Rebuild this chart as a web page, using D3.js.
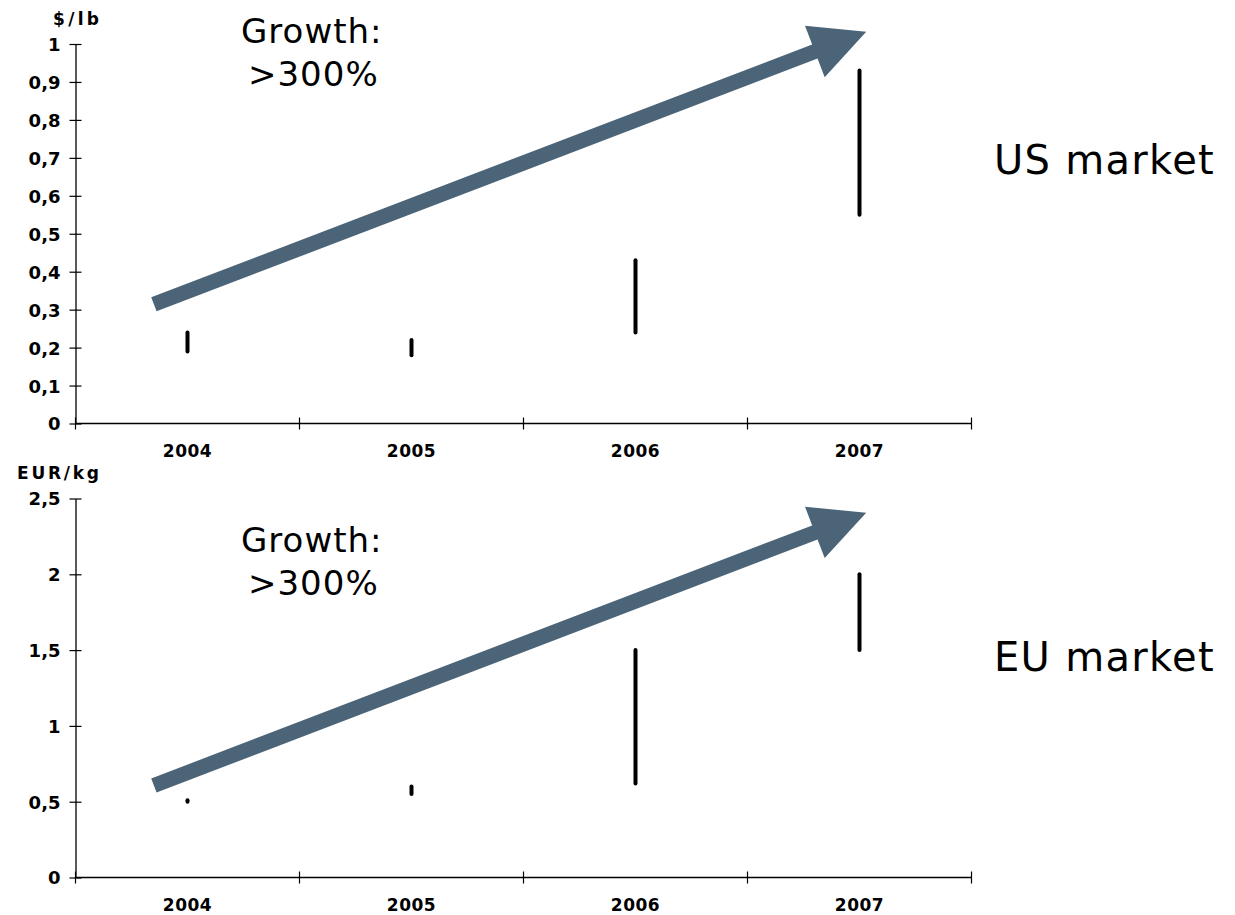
<!DOCTYPE html>
<html>
<head>
<meta charset="utf-8">
<script src="https://cdn.jsdelivr.net/npm/d3@7"></script>
<style>
  html, body { margin: 0; padding: 0; background: #ffffff; }
  svg { display: block; }
</style>
</head>
<body>
<script>
// ---------- data ----------
const years = ["2004", "2005", "2006", "2007"];
const usLow  = [0.19, 0.18, 0.24, 0.55];
const usHigh = [0.24, 0.22, 0.43, 0.93];
const euLow  = [0.50, 0.55, 0.62, 1.50];
const euHigh = [0.51, 0.60, 1.50, 2.00];
const usTicks = [0, 0.1, 0.2, 0.3, 0.4, 0.5, 0.6, 0.7, 0.8, 0.9, 1];
const euTicks = [0, 0.5, 1, 1.5, 2, 2.5];
const usUnit = "$/lb";
const euUnit = "EUR/kg";
const usLabel = "US market";
const euLabel = "EU market";
const growthLines = ["Growth:", ">300%"];
// arrow annotation endpoints in data units: [year position, value]
const usArrow = [[2003.85, 0.314], [2007.03, 1.032]];
const euArrow = [[2003.85, 0.607], [2007.03, 2.406]];

const W = 1235, H = 915;
const svg = d3.select("body").append("svg").attr("width", W).attr("height", H);
const FONT = "'DejaVu Sans', Verdana, sans-serif";
const fmt = d => String(d).replace(".", ",");

function panel(cfg) {
  const x = d3.scaleBand().domain(years).range([75.5, 971.5]).padding(0);
  const xYear = d3.scaleLinear().domain([2004, 2005]).range([x("2004") + x.bandwidth() / 2, x("2005") + x.bandwidth() / 2]);
  const y = d3.scaleLinear().domain([0, cfg.max]).range([cfg.y0, cfg.y1]);
  const g = svg.append("g");

  // y axis
  const ya = g.append("g").attr("transform", `translate(${x.range()[0]},0)`)
    .call(d3.axisLeft(y).tickValues(cfg.ticks).tickFormat(fmt).tickSizeInner(6).tickSizeOuter(0).tickPadding(9));
  ya.select(".domain").attr("stroke", "#000").attr("stroke-width", 1.3);
  ya.selectAll(".tick line").attr("x1", 6).attr("stroke", "#000").attr("stroke-width", 1.2);
  ya.selectAll(".tick text").attr("font-family", FONT).attr("font-weight", "bold")
    .attr("font-size", 18).attr("fill", "#000").attr("dy", "0.36em");

  // x axis
  const base = y(0);
  g.append("line").attr("x1", x.range()[0]).attr("x2", x.range()[1])
    .attr("y1", base).attr("y2", base).attr("stroke", "#000").attr("stroke-width", 1.3);
  const bounds = years.map(d => x(d)).concat([x.range()[1]]);
  g.selectAll(".xt").data(bounds).enter().append("line")
    .attr("x1", d => d).attr("x2", d => d)
    .attr("y1", base - 6).attr("y2", base + 6)
    .attr("stroke", "#000").attr("stroke-width", 1.2);
  g.selectAll(".xl").data(years).enter().append("text")
    .attr("x", d => x(d) + x.bandwidth() / 2).attr("y", base + 33)
    .attr("text-anchor", "middle").attr("font-family", FONT).attr("font-weight", "bold")
    .attr("font-size", 17).attr("letter-spacing", 0.5).text(d => d);

  // unit label
  g.append("text").attr("x", cfg.unitX).attr("y", cfg.unitY)
    .attr("font-family", FONT).attr("font-weight", "bold").attr("font-size", 17)
    .attr("textLength", cfg.unitW).attr("lengthAdjust", "spacing").text(cfg.unit);

  // range bars
  g.selectAll(".bar").data(years).enter().append("line")
    .attr("x1", d => x(d) + x.bandwidth() / 2).attr("x2", d => x(d) + x.bandwidth() / 2)
    .attr("y1", (d, i) => y(cfg.low[i])).attr("y2", (d, i) => y(cfg.high[i]))
    .attr("stroke", "#000").attr("stroke-width", 4).attr("stroke-linecap", "round");

  // arrow
  const [a, b] = cfg.arrow;
  const p0 = [xYear(a[0]), y(a[1])], p1 = [xYear(b[0]), y(b[1])];
  const dx = p1[0] - p0[0], dy = p1[1] - p0[1], L = Math.hypot(dx, dy);
  const u = [dx / L, dy / L], n = [-u[1], u[0]];
  const sw = 7.5, hl = 55, hw = 27.5;
  const hb = [p1[0] - u[0] * hl, p1[1] - u[1] * hl];
  const pt = (c, s) => [c[0] + n[0] * s, c[1] + n[1] * s];
  const poly = [pt(p0, sw), pt(hb, sw), pt(hb, hw), p1, pt(hb, -hw), pt(hb, -sw), pt(p0, -sw)];
  g.append("path").attr("d", "M" + poly.map(p => p.join(",")).join("L") + "Z").attr("fill", "#4c6477");

  // growth text
  g.append("text").attr("x", 241).attr("y", cfg.growthY)
    .attr("font-family", FONT).attr("font-size", 34).attr("letter-spacing", 1).text(growthLines[0]);
  g.append("text").attr("x", 248).attr("y", cfg.growthY + 43)
    .attr("font-family", FONT).attr("font-size", 34).attr("letter-spacing", 1).text(growthLines[1]);

  // market label
  g.append("text").attr("x", 994).attr("y", cfg.labelY)
    .attr("font-family", FONT).attr("font-size", 40).attr("letter-spacing", 1.3).text(cfg.label);
}

panel({ max: 1, ticks: usTicks, y0: 423.5, y1: 44, low: usLow, high: usHigh, arrow: usArrow,
  unit: usUnit, unitX: 53, unitY: 25, unitW: 46, growthY: 43, label: usLabel, labelY: 174 });
panel({ max: 2.5, ticks: euTicks, y0: 877.5, y1: 498.5, low: euLow, high: euHigh, arrow: euArrow,
  unit: euUnit, unitX: 17, unitY: 479, unitW: 82, growthY: 552, label: euLabel, labelY: 671 });
</script>
</body>
</html>
